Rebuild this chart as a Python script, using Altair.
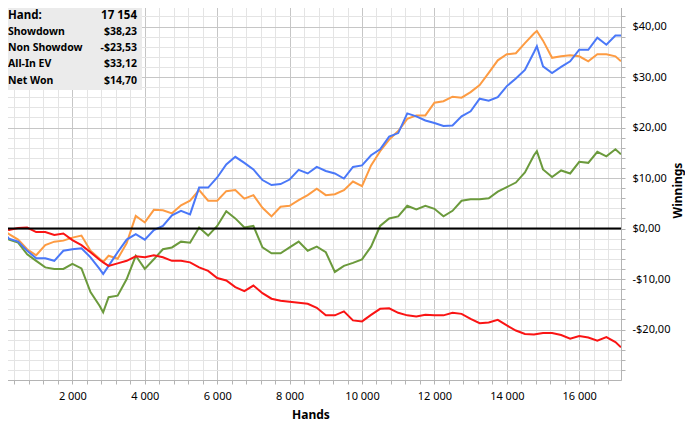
import altair as alt
import pandas as pd

FONT = "Noto Sans"

hands = [0, 250, 500, 750, 1000, 1250, 1500, 1750, 2000, 2250, 2500, 2750, 2850,
         3000, 3250, 3500, 3750, 4000, 4250, 4500, 4750, 5000, 5250, 5500, 5750,
         6000, 6250, 6500, 6750, 7000, 7250, 7500, 7750, 8000, 8250, 8500, 8750,
         9000, 9250, 9500, 9750, 10000, 10250, 10500, 10750, 11000, 11250, 11500,
         11750, 12000, 12250, 12500, 12750, 13000, 13250, 13500, 13750, 14000,
         14250, 14500, 14750, 14830, 15000, 15250, 15500, 15750, 16000, 16250,
         16500, 16750, 17000, 17154]

showdown = [0, -2.0, -2.6, -4.4, -5.9, -5.9, -6.4, -4.4, -4.1, -3.9, -5.7, -8.0, -9.0,
            -7.4, -4.7, -2.2, -1.1, -2.2, -0.3, 0.5, 2.6, 3.5, 2.8, 8.1, 8.1,
            10.1, 12.7, 14.2, 13.0, 11.7, 9.6, 8.6, 8.8, 9.7, 11.6, 10.9, 12.2,
            11.4, 10.9, 9.9, 12.2, 12.5, 14.5, 15.7, 18.2, 18.9, 22.8, 22.2,
            21.4, 20.9, 20.3, 20.4, 22.2, 23.2, 25.7, 25.3, 26.0, 28.2,
            29.7, 31.4, 34.9, 36.1, 32.1, 30.8, 32.0, 33.1, 35.4, 35.4,
            37.8, 36.4, 38.2, 38.23]

non_showdown = [0, -0.3, 0.1, 0.2, -0.7, -0.7, -1.3, -1.0, -2.3, -3.3, -4.7, -6.2, -6.7,
                -7.4, -6.9, -6.4, -5.5, -5.7, -5.3, -5.7, -6.4, -6.4, -6.7, -7.7, -8.4,
                -9.8, -10.3, -11.6, -12.4, -11.3, -12.8, -13.9, -14.3, -14.5, -14.7, -14.9, -15.7,
                -17.2, -17.2, -16.4, -18.2, -18.4, -17.1, -15.9, -15.8, -16.7, -17.2, -17.4,
                -17.1, -17.2, -17.2, -16.7, -16.9, -17.9, -18.75, -18.6, -18.1, -19.2,
                -20.2, -20.9, -21.0, -20.9, -20.7, -20.7, -21.1, -21.8, -21.3, -21.6,
                -22.2, -21.5, -22.5, -23.53]

all_in_ev = [0, -1.1, -2.2, -4.1, -5.3, -3.3, -2.6, -2.4, -1.8, -1.4, -4.4, -6.0, -6.6,
             -5.4, -6.0, -2.9, 2.5, 1.2, 3.7, 3.6, 3.0, 4.6, 5.5, 7.6, 5.5,
             5.5, 7.4, 7.6, 5.9, 6.6, 4.1, 2.4, 4.3, 4.5, 5.6, 6.6, 7.9,
             6.6, 6.8, 7.6, 9.3, 8.4, 12.5, 15.3, 17.6, 19.3, 21.7, 22.4,
             22.4, 24.9, 25.2, 26.1, 25.9, 27.0, 28.4, 30.8, 33.3, 34.5,
             34.7, 36.7, 38.6, 39.1, 37.2, 33.8, 34.1, 34.3, 34.1, 33.1,
             34.5, 34.5, 34.1, 33.12]

net_won = [0, -2.2, -2.8, -5.1, -6.4, -7.7, -8.0, -8.0, -7.0, -7.9, -12.6, -15.3, -16.6,
           -13.6, -13.3, -10.0, -5.4, -8.0, -6.1, -4.1, -3.75, -2.6, -2.8, 0.2, -1.4,
           0.5, 3.4, 2.0, 0.2, 0.5, -3.75, -4.9, -4.9, -3.75, -2.6, -4.4, -3.6,
           -4.7, -8.6, -7.4, -6.8, -6.1, -3.6, 0.5, 2.0, 2.4, 4.5, 3.8,
           4.5, 3.9, 2.4, 3.5, 5.5, 5.8, 5.8, 6.0, 7.3, 8.2,
           9.1, 11.1, 14.5, 15.3, 11.7, 10.2, 11.5, 10.9, 13.2, 13.0,
           15.2, 14.3, 15.7, 14.70]

# draw order: first drawn is at the bottom
series_names = ["Net Won", "All-In EV", "Showdown", "Non Showdown"]
series_values = [net_won, all_in_ev, showdown, non_showdown]
series_colors = ["#6b9a3c", "#fd9b42", "#4a78f8", "#fa1414"]

stat_title = "Hand:"
stat_title_value = "17 154"
stat_labels = ["Showdown", "Non Showdown", "All-In EV", "Net Won"]
stat_values = ["$38,23", "-$23,53", "$33,12", "$14,70"]

x_ticks = list(range(400, 17154, 400))
y_ticks = list(range(-28, 45, 2))

x_scale = alt.Scale(domain=[0, 17154], nice=False, zero=False)
y_scale = alt.Scale(domain=[-30, 45.25], nice=False, zero=False)

x_axis = alt.Axis(
    values=x_ticks,
    labelExpr="datum.value % 2000 == 0 ? replace(format(datum.value, ','), ',', ' ') : ''",
    labelOverlap=False, labelFlush=False,
    grid=True,
    gridColor={"condition": {"test": "datum.value % 2000 == 0", "value": "#c6c6c6"}, "value": "#e4e4e4"},
    gridWidth=1,
    tickSize=4, tickColor="#b4b4b4", domainColor="#b4b4b4",
    labelFont=FONT, labelFontSize=11, labelColor="#000000", labelPadding=6,
    title="Hands", titleFont=FONT, titleFontSize=12, titleFontWeight="bold",
    titleColor="#000000", titlePadding=8,
)
y_axis = alt.Axis(
    orient="right",
    values=y_ticks,
    labelExpr="datum.value % 10 == 0 ? (datum.value < 0 ? '-$' : '$') + format(abs(datum.value), 'd') + ',00' : ''",
    labelOverlap=False, labelFlush=False,
    grid=True,
    gridColor={"condition": {"test": "datum.value % 10 == 0", "value": "#c6c6c6"}, "value": "#e4e4e4"},
    gridWidth=1,
    tickSize=4, tickColor="#b4b4b4", domainColor="#b4b4b4",
    labelFont=FONT, labelFontSize=11, labelColor="#000000", labelPadding=7,
    title="Winnings", titleFont=FONT, titleFontSize=12, titleFontWeight="bold",
    titleColor="#000000", titleAngle=270, titleBaseline="top", titlePadding=3,
)

layers = []
for name, vals, col in zip(series_names, series_values, series_colors):
    df = pd.DataFrame({"hands": hands, "winnings": vals, "series": name})
    layers.append(
        alt.Chart(df).mark_line(color=col, strokeWidth=2, clip=True).encode(
            x=alt.X("hands:Q", scale=x_scale, axis=x_axis),
            y=alt.Y("winnings:Q", scale=y_scale, axis=y_axis),
        )
    )

zero_line = alt.Chart(pd.DataFrame({"winnings": [0]})).mark_rule(
    color="#000000", strokeWidth=2
).encode(y=alt.Y("winnings:Q", scale=y_scale, axis=y_axis))

box = alt.Chart(pd.DataFrame({"a": [0]})).mark_rect(color="#ebebeb", opacity=1).encode(
    x=alt.value(3), x2=alt.value(142), y=alt.value(2), y2=alt.value(90)
)

text_layers = [
    alt.Chart(pd.DataFrame({"t": [stat_title]})).mark_text(
        align="left", baseline="middle", font=FONT, fontSize=11.5, fontWeight="bold", color="#000000"
    ).encode(x=alt.value(8), y=alt.value(16), text="t:N"),
    alt.Chart(pd.DataFrame({"t": [stat_title_value]})).mark_text(
        align="right", baseline="middle", font=FONT, fontSize=11.5, fontWeight="bold", color="#000000"
    ).encode(x=alt.value(137), y=alt.value(16), text="t:N"),
]
row_y = [31.5, 47.5, 63.5, 80.5]
for lab, val, yy in zip(stat_labels, stat_values, row_y):
    text_layers.append(
        alt.Chart(pd.DataFrame({"t": [lab]})).mark_text(
            align="left", baseline="middle", font=FONT, fontSize=10.5, fontWeight="bold",
            color="#000000", limit=78, ellipsis=" "
        ).encode(x=alt.value(8), y=alt.value(yy), text="t:N")
    )
    text_layers.append(
        alt.Chart(pd.DataFrame({"t": [val]})).mark_text(
            align="right", baseline="middle", font=FONT, fontSize=10.5, fontWeight="bold",
            color="#000000"
        ).encode(x=alt.value(137), y=alt.value(yy), text="t:N")
    )

chart = alt.layer(*layers, zero_line, box, *text_layers).properties(
    width=621, height=380,
    padding={"left": -8, "top": -8, "right": 64, "bottom": 47},
    autosize=alt.AutoSizeParams(type="none"),
).configure_view(stroke=None).configure(background="#ffffff")

chart.save("out.html", embed_options={"renderer": "svg", "actions": False})
